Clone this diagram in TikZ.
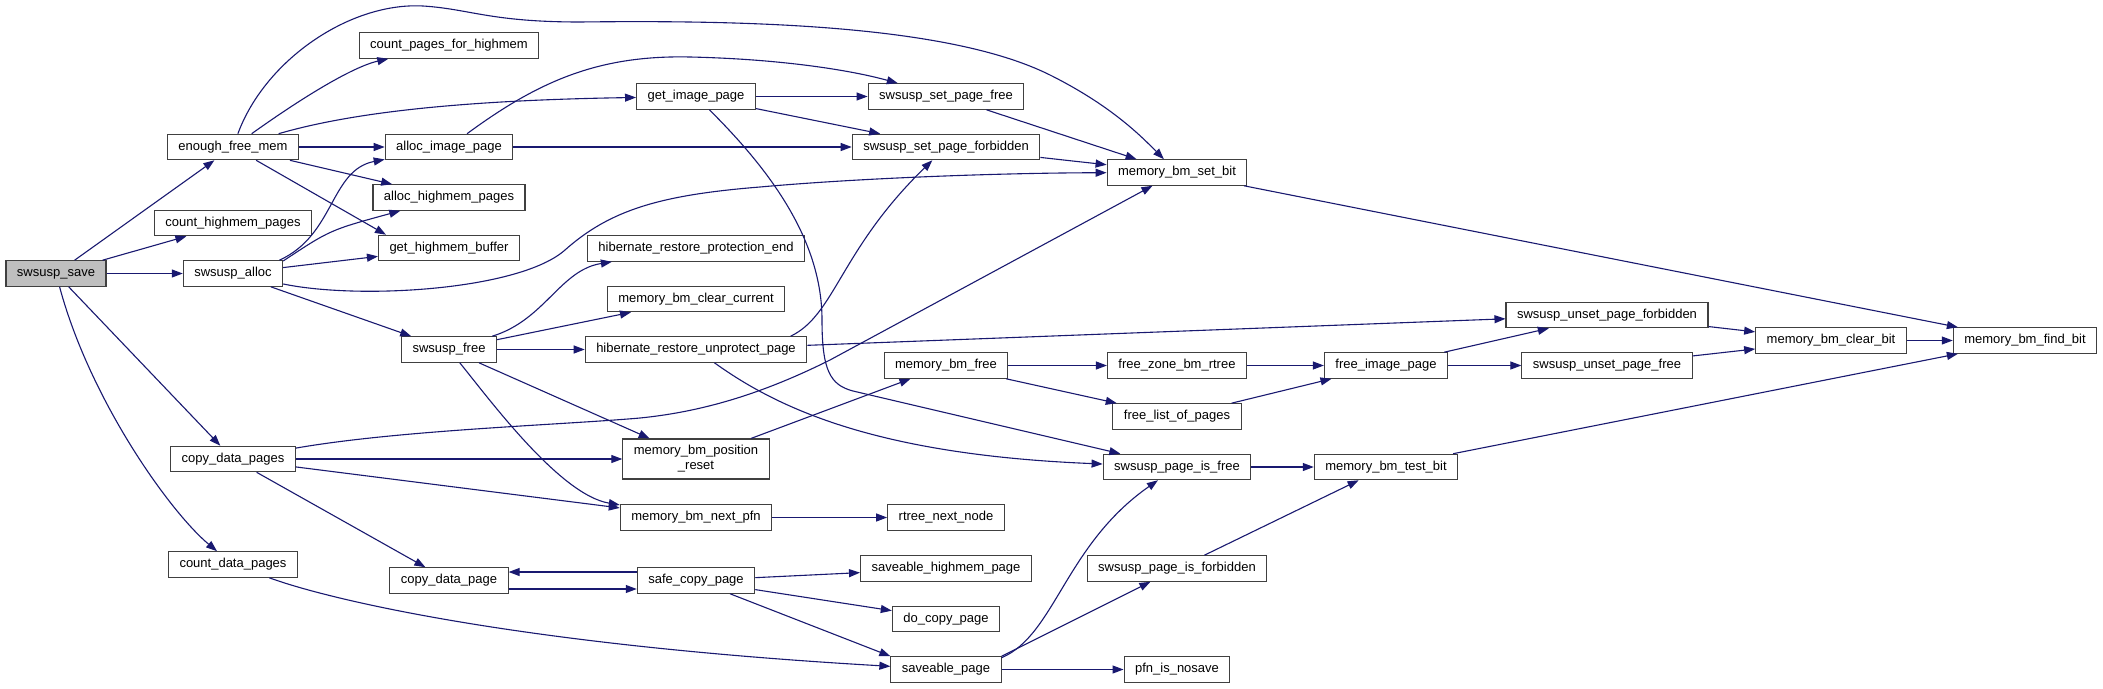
\documentclass[tikz,border=0pt]{standalone}
\usepackage{fontspec}
\setmainfont{Liberation Sans}
\usetikzlibrary{arrows.meta,calc}

\definecolor{edgeblue}{HTML}{191970}
\definecolor{rootgray}{HTML}{BFBFBF}
\definecolor{boxline}{HTML}{404040}

\tikzset{
  fn/.style={draw=boxline, line width=1.1pt, fill=white, font=\fontsize{13}{15}\selectfont,
    inner xsep=11pt, inner ysep=2pt, text height=9.5pt, text depth=3pt, minimum height=25.5pt},
  root/.style={fn, fill=rootgray},
  call/.style={draw=edgeblue, line width=1.1pt, -{Triangle[length=11pt,width=8pt]}}
}

\begin{document}
\begin{tikzpicture}[x=1pt, y=-1pt]
    % Fix the page size
    \fill[white] (0,0) rectangle (2103,688);
    \useasboundingbox (0,0) rectangle (2103,688);

    % Define the functions, column by column
    \node[root] (save) at (56,273.5) {swsusp\_save};

    \node[fn] (efm) at (233,147) {enough\_free\_mem};
    \node[fn] (chp) at (233,223) {count\_highmem\_pages};
    \node[fn] (salloc) at (233,273.5) {swsusp\_alloc};
    \node[fn] (cdp) at (233,459) {copy\_data\_pages};
    \node[fn] (cntdp) at (233,564.5) {count\_data\_pages};

    \node[fn] (cpfh) at (449,45.5) {count\_pages\_for\_highmem};
    \node[fn] (aip) at (449,147) {alloc\_image\_page};
    \node[fn] (ahp) at (449,197.5) {alloc\_highmem\_pages};
    \node[fn] (ghb) at (449,248) {get\_highmem\_buffer};
    \node[fn] (sfree) at (449,349.5) {swsusp\_free};
    \node[fn] (cdpage) at (449,580.5) {copy\_data\_page};

    \node[fn] (gip) at (696,96.5) {get\_image\_page};
    \node[fn] (hrpe) at (696,248.5) {hibernate\_restore\_protection\_end};
    \node[fn] (mbcc) at (696,299) {memory\_bm\_clear\_current};
    \node[fn] (hrup) at (696,349.5) {hibernate\_restore\_unprotect\_page};
    \node[fn, text height=, text depth=, minimum height=40pt, align=center] (mbpr) at (696,459) {memory\_bm\_position\\\_reset};
    \node[fn] (mbnp) at (696,517.5) {memory\_bm\_next\_pfn};
    \node[fn] (scp) at (696,580.5) {safe\_copy\_page};

    \node[fn] (spf) at (946,96.5) {swsusp\_set\_page\_free};
    \node[fn] (spfb) at (946,147) {swsusp\_set\_page\_forbidden};
    \node[fn] (mbf) at (946,365.5) {memory\_bm\_free};
    \node[fn] (rnn) at (946,517.5) {rtree\_next\_node};
    \node[fn] (shp) at (946,568.5) {saveable\_highmem\_page};
    \node[fn] (dcp) at (946,619) {do\_copy\_page};
    \node[fn] (spage) at (946,669.5) {saveable\_page};

    \node[fn] (mbsb) at (1177,172.5) {memory\_bm\_set\_bit};
    \node[fn] (fzbr) at (1177,365.5) {free\_zone\_bm\_rtree};
    \node[fn] (flop) at (1177,416.5) {free\_list\_of\_pages};
    \node[fn] (spif) at (1177,467) {swsusp\_page\_is\_free};
    \node[fn] (spifb) at (1177,568.5) {swsusp\_page\_is\_forbidden};
    \node[fn] (pin) at (1177,669.5) {pfn\_is\_nosave};

    \node[fn] (fip) at (1386,365.5) {free\_image\_page};
    \node[fn] (mbtb) at (1386,467) {memory\_bm\_test\_bit};

    \node[fn] (supfb) at (1607,315) {swsusp\_unset\_page\_forbidden};
    \node[fn] (supf) at (1607,365.5) {swsusp\_unset\_page\_free};

    \node[fn] (mbcb) at (1831,340.5) {memory\_bm\_clear\_bit};
    \node[fn] (mbfb) at (2025,340.5) {memory\_bm\_find\_bit};

    % Calls from swsusp_save
    \draw[call] (save) -- (efm);
    \draw[call] (save) -- (chp);
    \draw[call] (save) -- (salloc);
    \draw[call] (save) -- (cdp);
    \draw[call] (save) .. controls (90,400) and (170,512) .. (cntdp);

    % Calls from enough_free_mem
    \draw[call] (efm) .. controls (320,85) and (360,65) .. (cpfh);
    \draw[call] (efm) .. controls (265,60) and (350,2) .. (423,6) .. controls (470,9) and (490,22) .. (580,22)
        .. controls (750,20) and (950,25) .. (1050,75) .. controls (1110,105) and (1140,135) .. (mbsb);
    \draw[call] (efm) .. controls (360,110) and (480,100) .. (gip);
    \draw[call] (efm) -- (aip);
    \draw[call] (efm) -- (ahp);
    \draw[call] (efm) -- ($(ghb.north west)+(8,0)$);

    % Calls from swsusp_alloc
    \draw[call] (salloc.16) .. controls (335,235) and (330,170) .. (aip);
    \draw[call] (salloc.14) .. controls (330,230) .. (ahp);
    \draw[call] (salloc) -- (ghb);
    \draw[call] (salloc) .. controls (360,300) and (520,290) .. (565,250) .. controls (610,210) and (660,195) .. (760,187)
        .. controls (860,178) and (1000,173) .. (mbsb);
    \draw[call] (salloc) -- (sfree);

    % Page allocation
    \draw[call] (aip) .. controls (540,80) and (600,55) .. (690,57) .. controls (780,59) and (850,70) .. (spf);
    \draw[call] (aip) -- (spfb);
    \draw[call] (gip) -- (spf);
    \draw[call] (gip) -- (spfb);
    \draw[call] (gip) .. controls (770,170) and (822,240) .. (822,320) .. controls (822,370) and (830,385) .. (853,391) -- (spif);
    \draw[call] (spf) -- (mbsb);
    \draw[call] (spfb) -- (mbsb);
    \draw[call] (mbsb) -- (mbfb);

    % Calls from swsusp_free
    \draw[call] (sfree) .. controls (545,320) and (560,270) .. (hrpe);
    \draw[call] (sfree) -- (mbcc);
    \draw[call] (sfree) -- (hrup);
    \draw[call] (sfree) -- (mbpr);
    \draw[call] (sfree) .. controls (490,400) and (560,495) .. (mbnp);
    \draw[call] (hrup.8) .. controls (835,315) and (840,250) .. (spfb);
    \draw[call] (hrup) -- (supfb);
    \draw[call] (hrup) .. controls (780,410) and (880,455) .. (spif);

    % Calls from copy_data_pages and count_data_pages
    \draw[call] (cdp) .. controls (400,430) and (560,425) .. (640,418) .. controls (700,412) and (760,395) .. (830,360) -- (mbsb);
    \draw[call] (cdp) -- (mbpr);
    \draw[call] (cdp) -- (mbnp);
    \draw[call] (cdp) -- (cdpage);
    \draw[call] (cntdp) .. controls (330,600) and (520,645) .. (spage);

    % Copying pages
    \draw[call] ([yshift=-8.5pt]cdpage.east) -- ([yshift=-8.5pt]scp.west);
    \draw[call] ([yshift=8.5pt]scp.west) -- ([yshift=8.5pt]cdpage.east);
    \draw[call] (scp) -- (shp);
    \draw[call] (scp) -- (dcp);
    \draw[call] (scp) -- (spage.north west);
    \draw[call] (mbnp) -- (rnn);

    % Freeing bitmaps
    \draw[call] (mbpr) -- (mbf);
    \draw[call] (mbf) -- (fzbr);
    \draw[call] (mbf) -- (flop);
    \draw[call] (fzbr) -- (fip);
    \draw[call] (flop) -- (fip);
    \draw[call] (fip) -- (supfb);
    \draw[call] (fip) -- (supf);
    \draw[call] (supfb) -- (mbcb);
    \draw[call] (supf) -- (mbcb);
    \draw[call] (mbcb) -- (mbfb);

    % Checking pages
    \draw[call] (spage.12) .. controls (1055,635) and (1065,545) .. (spif);
    \draw[call] (spage.north east) -- (spifb);
    \draw[call] (spage) -- (pin);
    \draw[call] (spif) -- (mbtb);
    \draw[call] (spifb) -- (mbtb);
    \draw[call] (mbtb) -- (mbfb);
\end{tikzpicture}
\end{document}
